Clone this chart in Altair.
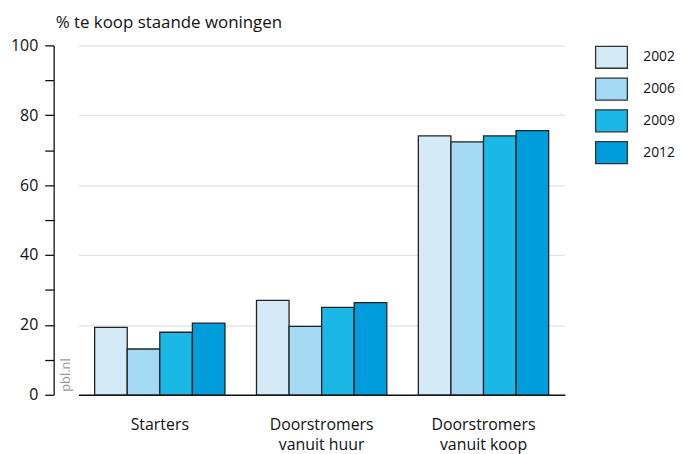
import altair as alt
import pandas as pd

categories = ["Starters", "Doorstromers|vanuit huur", "Doorstromers|vanuit koop"]
years = ["2002", "2006", "2009", "2012"]
values = {
    "2002": [19.3, 27.0, 74.1],
    "2006": [13.1, 19.6, 72.4],
    "2009": [17.9, 25.0, 74.1],
    "2012": [20.5, 26.4, 75.6],
}
colors = ["#d4ebf7", "#a3d9f3", "#1bb8e7", "#009ddd"]

rows = []
for y in years:
    for c, v in zip(categories, values[y]):
        rows.append({"cat": c, "year": y, "value": v})
df = pd.DataFrame(rows)

FONT = "Open Sans"

bars = alt.Chart(df).mark_bar(stroke="#222222", strokeWidth=1.3).encode(
    x=alt.X("cat:N", sort=categories,
            scale=alt.Scale(paddingInner=0.195, paddingOuter=0.1),
            axis=alt.Axis(title=None, labelAngle=0, ticks=False, grid=False, labelPadding=22,
                          labelExpr="split(datum.label, '|')", labelFontSize=16,
                          labelColor="#111111", domainColor="#111111", domainWidth=1.5,
                          labelFont=FONT, labelLineHeight=20)),
    xOffset=alt.XOffset("year:N", sort=years),
    y=alt.Y("value:Q", scale=alt.Scale(domain=[0, 100], nice=False),
            axis=alt.Axis(title=None, values=list(range(0, 101, 10)), offset=25,
                          labelExpr="datum.value % 20 == 0 ? datum.label : ''",
                          tickSize=9, tickColor="#111111", tickWidth=1.3,
                          domainColor="#111111", domainWidth=1.3,
                          labelFontSize=16, labelColor="#111111", labelPadding=7,
                          labelFont=FONT,
                          gridColor={"condition": {"test": "datum.value % 20 == 0", "value": "#e3e3e3"}, "value": "transparent"},
                          gridWidth=1.3)),
    color=alt.Color("year:N", sort=years, scale=alt.Scale(domain=years, range=colors),
                    legend=alt.Legend(title=None, orient="none", legendX=520, legendY=-5,
                                      padding=0,
                                      symbolType="M-1,-0.69L1,-0.69L1,0.69L-1,0.69Z",
                                      symbolSize=1024, symbolStrokeColor="#333333",
                                      symbolStrokeWidth=1.3, symbolOpacity=1,
                                      labelFontSize=14, labelFont=FONT, labelColor="#111111",
                                      labelOffset=15, rowPadding=1)),
)

wm = alt.Chart(pd.DataFrame({"t": ["pbl.nl"]})).mark_text(
    angle=270, align="left", baseline="middle", fontSize=13, color="#999999", font=FONT
).encode(text="t:N", x=alt.value(-13), y=alt.value(349))

chart = alt.layer(bars, wm).properties(
    width=490, height=352, padding={"top": 4, "left": 2, "right": 0, "bottom": 0},
    background="white",
    title=alt.TitleParams("% te koop staande woningen", anchor="start", frame="group", dx=-23,
                          fontSize=17, fontWeight="normal", font=FONT, color="#111111",
                          offset=6),
).configure_view(stroke=None)

chart.save("out.html", embed_options={"renderer": "svg", "actions": False})
